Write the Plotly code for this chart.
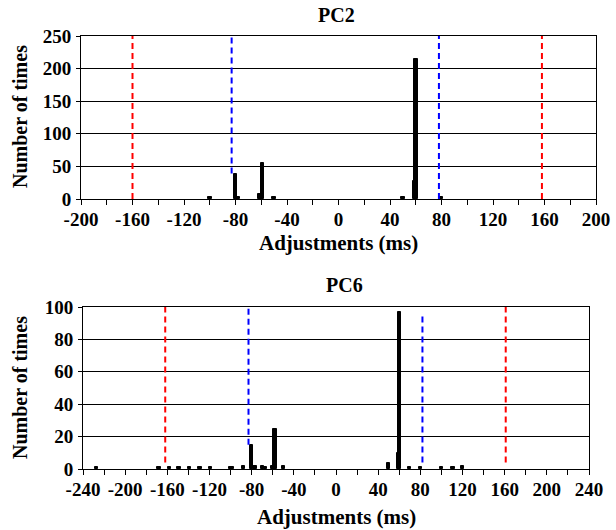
import plotly.graph_objects as go

# ---- data ----
pc2_x = [-100, -80, -78, -61, -59, -50, 50, 59, 60, 80]
pc2_y = [3, 38, 3, 7, 55, 3, 3, 28, 214, 3]
pc2_red = [-160, 158]
pc2_blue = [-83, 78]

pc6_x = [-227, -168, -158, -149, -139, -129, -119, -100, -98, -88, -80, -77,
         -70, -67, -60, -58, -50, 50, 59, 60, 70, 80, 100, 111, 120]
pc6_y = [1, 1, 1, 1, 1, 1, 1, 1, 1, 2, 15, 2, 2, 1, 2, 25, 2, 4, 10, 97,
         1, 1, 1, 1, 2]
pc6_red = [-162, 161]
pc6_blue = [-83, 82]

pc2_xticks = list(range(-200, 201, 40))
pc6_xticks = list(range(-240, 241, 40))
pc2_yticks = [0, 50, 100, 150, 200, 250]
pc6_yticks = [0, 20, 40, 60, 80, 100]

FONT = "Liberation Serif"
W, H = 616, 530

fig = go.Figure()
fig.add_trace(go.Bar(x=pc2_x, y=pc2_y, width=2.8, marker=dict(color="black", line=dict(color="black", width=1)),
                     xaxis="x", yaxis="y", showlegend=False))
fig.add_trace(go.Bar(x=pc6_x, y=pc6_y, width=3.2, marker=dict(color="black", line=dict(color="black", width=1)),
                     xaxis="x2", yaxis="y2", showlegend=False))

tickfont = dict(family=FONT, size=19, color="black", weight="bold")

def xaxis(rng, ticks, domain, anchor):
    return dict(range=rng, tickvals=ticks, ticktext=[str(t) for t in ticks], domain=domain, anchor=anchor,
                showline=True, linecolor="black", linewidth=1, mirror=True,
                ticks="outside", ticklen=5, tickcolor="black",
                minor=dict(ticks="outside", dtick=20, ticklen=5, tickcolor="black", showgrid=False),
                showgrid=False, zeroline=False, tickfont=tickfont, fixedrange=True,
                automargin=False, tickangle=0, ticklabelstandoff=-2)

def yaxis(rng, ticks, domain, anchor):
    return dict(range=rng, tickvals=ticks, domain=domain, anchor=anchor,
                showline=True, linecolor="black", linewidth=1, mirror=True,
                ticks="outside", ticklen=4, tickcolor="black",
                showgrid=True, gridcolor="black", gridwidth=1, zeroline=False,
                tickfont=tickfont, fixedrange=True, automargin=False, ticklabelstandoff=1)

fig.update_layout(
    width=W, height=H,
    margin=dict(l=0, r=0, t=0, b=0, pad=0, autoexpand=False),
    paper_bgcolor="white", plot_bgcolor="white",
    bargap=0,
    xaxis=xaxis([-200, 200], pc2_xticks, [81 / W, 596 / W], "y"),
    yaxis=yaxis([0, 250], pc2_yticks, [(H - 199) / H, (H - 36) / H], "x"),
    xaxis2=xaxis([-240, 240], pc6_xticks, [83 / W, 589 / W], "y2"),
    yaxis2=yaxis([0, 100], pc6_yticks, [(H - 469) / H, (H - 307) / H], "x2"),
)

dash = "6px,4px"
shapes = []
# PC2 lines
shapes.append(dict(type="line", xref="x", yref="y", x0=pc2_red[0], x1=pc2_red[0], y0=0, y1=250,
                   line=dict(color="red", width=2, dash=dash)))
shapes.append(dict(type="line", xref="x", yref="y", x0=pc2_red[1], x1=pc2_red[1], y0=0, y1=250,
                   line=dict(color="red", width=2, dash=dash)))
shapes.append(dict(type="line", xref="x", yref="y", x0=pc2_blue[0], x1=pc2_blue[0], y0=39, y1=250,
                   line=dict(color="blue", width=2, dash=dash)))
shapes.append(dict(type="line", xref="x", yref="y", x0=pc2_blue[1], x1=pc2_blue[1], y0=0, y1=250,
                   line=dict(color="blue", width=2, dash=dash)))
# PC6 lines
shapes.append(dict(type="line", xref="x2", yref="y2", x0=pc6_red[0], x1=pc6_red[0], y0=4, y1=100,
                   line=dict(color="red", width=2, dash=dash)))
shapes.append(dict(type="line", xref="x2", yref="y2", x0=pc6_red[1], x1=pc6_red[1], y0=4, y1=100,
                   line=dict(color="red", width=2, dash=dash)))
shapes.append(dict(type="line", xref="x2", yref="y2", x0=pc6_blue[0], x1=pc6_blue[0], y0=15, y1=100,
                   line=dict(color="blue", width=2, dash=dash)))
shapes.append(dict(type="line", xref="x2", yref="y2", x0=pc6_blue[1], x1=pc6_blue[1], y0=4, y1=96,
                   line=dict(color="blue", width=2, dash=dash)))
fig.update_layout(shapes=shapes)

titlefont = dict(family=FONT, size=20, color="black", weight="bold")
xlabfont = dict(family=FONT, size=21, color="black", weight="bold")
ylabfont = dict(family=FONT, size=20, color="black", weight="bold")

def ann(text, x, y, font, angle=0):
    return dict(text=text, x=x / W, y=1 - y / H, xref="paper", yref="paper",
                showarrow=False, font=font, textangle=angle, xanchor="center", yanchor="middle")

fig.update_layout(annotations=[
    ann("PC2", 336, 15, titlefont),
    ann("PC6", 344, 285, titlefont),
    ann("Adjustments (ms)", 338, 243, xlabfont),
    ann("Adjustments (ms)", 336, 517, xlabfont),
    ann("Number of times", 20, 117, ylabfont, -90),
    ann("Number of times", 20, 388, ylabfont, -90),
])

fig.write_html("out.html", config={"displayModeBar": False},
               post_script="document.body.style.margin='0';document.body.style.padding='0';")
